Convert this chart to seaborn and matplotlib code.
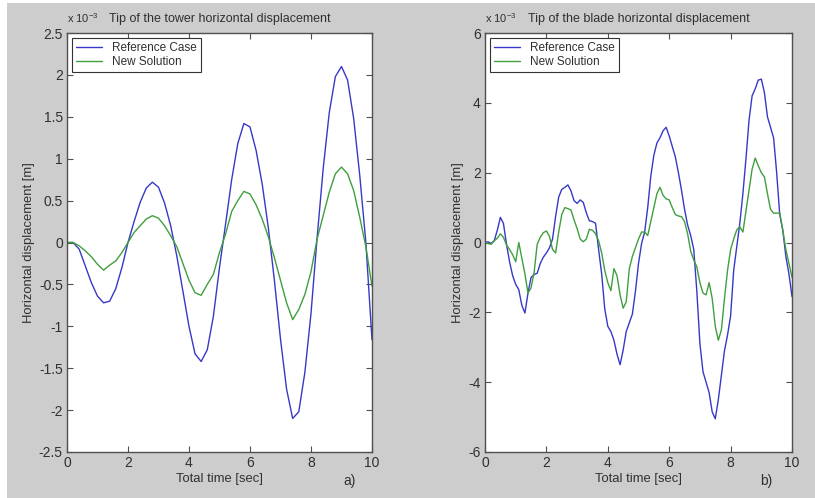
import numpy as np
import pandas as pd
import matplotlib
matplotlib.use("Agg")
import matplotlib.pyplot as plt
from matplotlib.ticker import FormatStrFormatter
import seaborn as sns

sns.set_style("ticks")
plt.rcParams['font.family'] = ['Liberation Sans', 'DejaVu Sans']
plt.rcParams['axes.unicode_minus'] = False

# tower tip, values in 1e-3 m, sampled every 0.2 s
t_tower = np.round(np.arange(0, 10.001, 0.2), 1)
tower_ref = [0.0, 0.0, -0.08, -0.28, -0.48, -0.64, -0.72, -0.70, -0.55, -0.30,
             0.0, 0.25, 0.48, 0.65, 0.72, 0.66, 0.47, 0.20, -0.16, -0.58,
             -1.00, -1.33, -1.42, -1.28, -0.88, -0.30, 0.22, 0.75, 1.18, 1.42,
             1.38, 1.10, 0.70, 0.18, -0.45, -1.15, -1.75, -2.10, -2.02, -1.55,
             -0.85, 0.05, 0.88, 1.55, 1.98, 2.10, 1.94, 1.48, 0.80, 0.0, -1.16]
tower_new = [0.0, 0.0, -0.04, -0.10, -0.17, -0.26, -0.33, -0.27, -0.22, -0.12,
             0.0, 0.12, 0.20, 0.28, 0.32, 0.29, 0.20, 0.08, -0.05, -0.25,
             -0.45, -0.60, -0.63, -0.50, -0.38, -0.12, 0.10, 0.37, 0.50, 0.61,
             0.58, 0.45, 0.28, 0.07, -0.18, -0.45, -0.72, -0.92, -0.80, -0.62,
             -0.35, 0.04, 0.32, 0.60, 0.82, 0.90, 0.82, 0.62, 0.30, -0.05, -0.52]

# blade tip, values in 1e-3 m, sampled every 0.1 s
t_blade = np.round(np.arange(0, 10.001, 0.1), 1)
blade_ref = [0.0, 0.02, -0.03, 0.05, 0.35, 0.72, 0.55, -0.05, -0.55, -0.95,
             -1.20, -1.35, -1.80, -2.02, -1.45, -1.00, -0.92, -0.88, -0.60, -0.42,
             -0.30, -0.15, 0.10, 0.75, 1.30, 1.52, 1.58, 1.65, 1.48, 1.20,
             1.12, 1.22, 1.15, 0.85, 0.62, 0.60, 0.55, -0.20, -0.90, -1.90,
             -2.40, -2.55, -2.80, -3.20, -3.50, -3.08, -2.55, -2.30, -2.05, -1.40,
             -0.60, -0.03, 0.30, 1.00, 1.90, 2.50, 2.85, 3.00, 3.20, 3.30,
             3.05, 2.75, 2.45, 2.00, 1.50, 0.95, 0.50, 0.20, -0.20, -1.40,
             -2.90, -3.70, -4.00, -4.30, -4.85, -5.05, -4.50, -3.80, -3.10, -2.65,
             -2.10, -0.80, -0.12, 0.55, 1.40, 2.40, 3.50, 4.20, 4.40, 4.65,
             4.68, 4.30, 3.60, 3.30, 3.00, 2.00, 0.80, 0.35, -0.40, -0.90, -1.55]
blade_new = [0.0, -0.03, -0.05, 0.05, 0.12, 0.25, 0.15, -0.07, -0.20, -0.35,
             -0.55, 0.0, -0.45, -0.90, -1.45, -1.30, -0.85, -0.05, 0.15, 0.28,
             0.33, 0.18, -0.20, -0.30, 0.30, 0.80, 1.00, 0.97, 0.93, 0.65,
             0.40, 0.10, 0.02, 0.10, 0.38, 0.35, 0.25, 0.05, -0.30, -0.80,
             -1.15, -1.38, -0.75, -0.95, -1.50, -1.88, -1.70, -0.75, -0.40, -0.15,
             0.10, 0.30, 0.30, 0.20, 0.60, 1.00, 1.40, 1.58, 1.35, 1.25,
             1.22, 1.00, 0.80, 0.76, 0.74, 0.60, 0.25, -0.25, -0.50, -0.70,
             -1.15, -1.45, -1.50, -1.15, -1.60, -2.40, -2.80, -2.50, -1.60, -0.80,
             -0.20, 0.10, 0.36, 0.45, 0.30, 0.90, 1.50, 2.10, 2.42, 2.20,
             2.00, 1.88, 1.40, 0.95, 0.84, 0.84, 0.84, 0.35, -0.20, -0.60, -1.00]

series_names = ["Reference Case", "New Solution"]
line_colors = ["#3838c8", "#3f9f3f"]
text_col = "#303030"
frame_col = "#505050"

fig = plt.figure(figsize=(8.15, 4.98), dpi=100, facecolor="#cdcdcd")
# thin white strips at top and left like the scanned original
fig.patches.append(plt.Rectangle((0, 0), 0.009, 1, transform=fig.transFigure,
                                 facecolor="white", edgecolor="none", zorder=0))
fig.patches.append(plt.Rectangle((0, 0.993), 1, 0.007, transform=fig.transFigure,
                                 facecolor="white", edgecolor="none", zorder=0))

panels = [
    dict(pos=[0.0822, 0.0924, 0.3742, 0.8413], t=t_tower, ys=[tower_ref, tower_new],
         ylim=(-2.5, 2.5), yticks=np.arange(-2.5, 2.51, 0.5),
         title="Tip of the tower horizontal displacement", tag="a)", tag_x=0.905),
    dict(pos=[0.5951, 0.0924, 0.3767, 0.8413], t=t_blade, ys=[blade_ref, blade_new],
         ylim=(-6, 6), yticks=np.arange(-6, 6.1, 2),
         title="Tip of the blade horizontal displacement", tag="b)", tag_x=0.896),
]

for p in panels:
    ax = fig.add_axes(p["pos"])
    ax.set_facecolor("white")
    df = pd.DataFrame({"t": np.tile(p["t"], 2),
                       "v": np.concatenate(p["ys"]),
                       "case": np.repeat(series_names, len(p["t"]))})
    sns.lineplot(data=df, x="t", y="v", hue="case", palette=line_colors,
                 linewidth=1.0, ax=ax, legend=False)
    ax.set_xlim(0, 10)
    ax.set_ylim(*p["ylim"])
    ax.set_xticks(np.arange(0, 11, 2))
    ax.set_yticks(p["yticks"])
    ax.yaxis.set_major_formatter(FormatStrFormatter('%g'))
    ax.xaxis.set_major_formatter(FormatStrFormatter('%g'))
    ax.tick_params(direction="in", top=True, right=True, length=4, width=0.8,
                   color=frame_col, labelcolor=text_col, labelsize=10, pad=3)
    for s in ax.spines.values():
        s.set_color(frame_col)
        s.set_linewidth(1.0)
    ax.set_xlabel("Total time [sec]", fontsize=9.4, color=text_col, labelpad=2)
    ax.set_ylabel("Horizontal displacement [m]", fontsize=9.4, color=text_col, labelpad=3)
    ax.set_title(p["title"], fontsize=9, color=text_col, pad=8)
    ax.text(0.0, 1.02, r"x 10$^{\mathregular{-3}}$", transform=ax.transAxes, fontsize=8,
            color=text_col, ha="left", va="bottom")
    ax.text(p["tag_x"], -0.069, p["tag"], transform=ax.transAxes, fontsize=10,
            color=text_col, ha="left", va="center")
    handles = [plt.Line2D([], [], color=c, lw=1.0) for c in line_colors]
    leg = ax.legend(handles, series_names, loc="upper left", fontsize=8.5,
                    frameon=True, fancybox=False, framealpha=1, edgecolor="#333333",
                    borderaxespad=0.4, handlelength=2.2, handletextpad=0.9,
                    labelspacing=0.15, borderpad=0.35, labelcolor=text_col)
    leg.get_frame().set_linewidth(0.8)

fig.savefig("out.png", dpi=100, facecolor=fig.get_facecolor())
